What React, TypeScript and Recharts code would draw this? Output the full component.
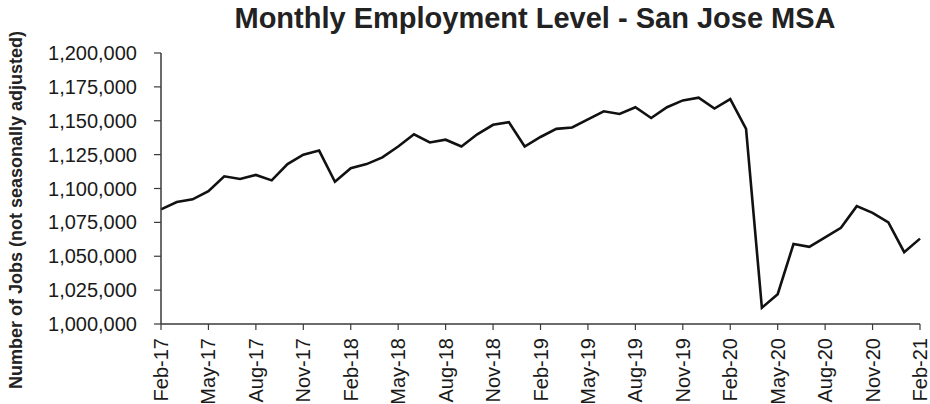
import React from 'react';
import { LineChart, Line, XAxis, YAxis } from 'recharts';

const months = [
  'Feb-17','Mar-17','Apr-17','May-17','Jun-17','Jul-17','Aug-17','Sep-17','Oct-17','Nov-17','Dec-17','Jan-18',
  'Feb-18','Mar-18','Apr-18','May-18','Jun-18','Jul-18','Aug-18','Sep-18','Oct-18','Nov-18','Dec-18','Jan-19',
  'Feb-19','Mar-19','Apr-19','May-19','Jun-19','Jul-19','Aug-19','Sep-19','Oct-19','Nov-19','Dec-19','Jan-20',
  'Feb-20','Mar-20','Apr-20','May-20','Jun-20','Jul-20','Aug-20','Sep-20','Oct-20','Nov-20','Dec-20','Jan-21',
  'Feb-21',
];

const jobs = [
  1084600, 1090000, 1092000, 1098000, 1109000, 1107000, 1110000, 1106000, 1118000, 1125000, 1128000, 1105000,
  1115000, 1118000, 1123000, 1131000, 1140000, 1134000, 1136000, 1131000, 1140000, 1147000, 1149000, 1131000,
  1138000, 1144000, 1145000, 1151000, 1157000, 1155000, 1160000, 1152000, 1160000, 1165000, 1167000, 1159000,
  1166000, 1144000, 1012000, 1022000, 1059000, 1057000, 1064000, 1071000, 1087000, 1082000, 1075000, 1053000,
  1063000,
];

const yTicks = [1000000, 1025000, 1050000, 1075000, 1100000, 1125000, 1150000, 1175000, 1200000];

const title = 'Monthly Employment Level - San Jose MSA';
const yLabel = 'Number of Jobs (not seasonally adjusted)';

const data = months.map((m, i) => ({ month: m, jobs: jobs[i] }));

const FONT = '"Liberation Sans", Arial, Helvetica, sans-serif';

const XTick = (props: any) => {
  const { x, y, payload } = props;
  return (
    <g transform={`translate(${x},${y + 6})`}>
      <text
        transform="rotate(-90)"
        x={0}
        y={0}
        dy="0.35em"
        textAnchor="end"
        fontSize={20}
        fontFamily={FONT}
        fill="#1a1a1a"
      >
        {payload.value}
      </text>
    </g>
  );
};

export default function App() {
  return (
    <div style={{ position: 'absolute', left: 0, top: 0, width: 930, height: 404, background: '#fff' }}>
      <LineChart
        width={930}
        height={404}
        data={data}
        margin={{ top: 53, right: 10, bottom: 10, left: 61 }}
      >
        <XAxis
          dataKey="month"
          interval={2}
          tick={<XTick />}
          tickSize={6}
          height={70}
          axisLine={{ stroke: '#3a3a3a', strokeWidth: 1.5 }}
          tickLine={{ stroke: '#3a3a3a', strokeWidth: 1.2 }}
        />
        <YAxis
          domain={[1000000, 1200000]}
          ticks={yTicks}
          interval={0}
          width={100}
          tickSize={7}
          tickMargin={17}
          tickFormatter={(v: number) => v.toLocaleString('en-US')}
          tick={{ fontSize: 20, fontFamily: FONT, fill: '#1a1a1a' }}
          axisLine={{ stroke: '#3a3a3a', strokeWidth: 1.5 }}
          tickLine={{ stroke: '#3a3a3a', strokeWidth: 1.2 }}
        />
        <Line
          type="linear"
          dataKey="jobs"
          stroke="#111"
          strokeWidth={2.6}
          dot={false}
          isAnimationActive={false}
        />
      </LineChart>
      <svg
        width={930}
        height={404}
        style={{ position: 'absolute', left: 0, top: 0, pointerEvents: 'none' }}
      >
        <text
          x={535}
          y={28}
          textAnchor="middle"
          fontSize={29}
          fontWeight="bold"
          fontFamily={FONT}
          fill="#222"
        >
          {title}
        </text>
        <text
          transform="translate(22,210) rotate(-90)"
          textAnchor="middle"
          fontSize={18}
          fontWeight="bold"
          fontFamily={FONT}
          fill="#222"
        >
          {yLabel}
        </text>
      </svg>
    </div>
  );
}
